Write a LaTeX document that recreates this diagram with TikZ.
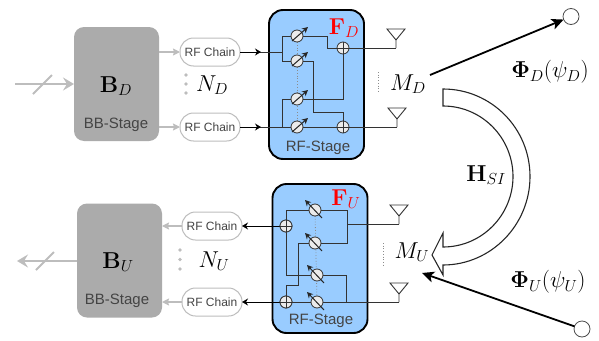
\RequirePackage{fix-cm}
\documentclass[tikz,border=0pt]{standalone}
\usepackage[no-math]{fontspec}
\newfontfamily\labelfont{Liberation Sans}
\usetikzlibrary{arrows.meta,calc}
\DeclareMathSizes{23}{23}{16}{12}
\definecolor{rfblue}{HTML}{99CCFF}
\definecolor{bbgray}{HTML}{ABABAB}
\definecolor{lightline}{HTML}{BDBDBD}
\definecolor{wire}{HTML}{333333}
\definecolor{labelgray}{HTML}{444444}
\pgfdeclarelayer{backbox}
\pgfdeclarelayer{wires}
\pgfsetlayers{backbox,wires,main}
\newcommand{\mathsize}{\fontsize{23}{27}\selectfont}
\tikzset{
  x=1pt,y=-1pt,
  every node/.style={inner sep=0pt,outer sep=0pt},
  bbbox/.style={fill=bbgray,rounded corners=10pt,minimum width=85pt,minimum height=114pt},
  rfbox/.style={fill=rfblue,draw=black,line width=1.9pt,rounded corners=14pt,minimum width=95pt,minimum height=149pt},
  chain/.style={draw=lightline,fill=white,line width=1pt,rounded corners=13.5pt,minimum width=60pt,minimum height=28pt,font=\labelfont\fontsize{12}{14}\selectfont,text=labelgray},
  stagelabel/.style={font=\labelfont\fontsize{15}{18}\selectfont,text=labelgray},
  mathlabel/.style={font=\mathsize},
  redlabel/.style={font=\mathsize,text=red},
  shifter/.style={circle,draw=wire,fill=white!92!black,line width=.8pt,minimum size=12pt},
  adder/.style={circle,draw=wire,fill=white!92!black,line width=.8pt,minimum size=12pt,
    path picture={\draw[wire,line width=.8pt] (path picture bounding box.north)--(path picture bounding box.south)
      (path picture bounding box.west)--(path picture bounding box.east);}},
  wireline/.style={draw=wire,line width=.9pt},
  grayarrow/.style={draw=lightline,line width=1.2pt,-{Stealth[length=7pt,width=7pt,inset=1pt]}},
  blackarrow/.style={draw=black,line width=1pt,-{Stealth[length=6pt,width=7pt]}},
  streamarrow/.style={draw=lightline,line width=1.9pt,-{Stealth[length=11pt,width=13pt,inset=4pt]}},
  beam/.style={draw=black,line width=1.8pt,-{Stealth[length=12pt,width=11pt,inset=3pt]}},
  tuner/.style={draw=black!85,line width=1pt,-{Stealth[length=6pt,width=6pt]}},
  antenna/.style={draw=wire,line width=.9pt,fill=white},
  user/.style={circle,draw=black!70,fill=white,line width=.8pt,minimum size=16pt},
  graydots/.style={circle,fill=lightline,minimum size=3.6pt},
  tinydots/.style={draw=black!45,line width=.7pt,dotted},
  psline/.style={draw=black!45,line width=.8pt,dotted}
}
\newcommand{\antennaat}[1]{\draw[antenna] (#1) -- ++(0,-8) -- ++(-9,-11) -- ++(18,0) -- ++(-9,11);}
\begin{document}
\begin{tikzpicture}
\useasboundingbox (0,0) rectangle (599,340);
% ---------- stage blocks
\begin{pgfonlayer}{backbox}
\node[bbbox] (bbd) at (116.5,84) {};
\node[bbbox] (bbu) at (119.5,260.5) {};
\node[rfbox] (rfd) at (316.5,84.5) {};
\node[rfbox] (rfu) at (320,258.5) {};
\end{pgfonlayer}
\node[mathlabel] (bdl) at (116,86) {$\mathbf{B}_D$};
\node[stagelabel] (bds) at (116,125) {BB-Stage};
\node[mathlabel] (bul) at (118,262) {$\mathbf{B}_U$};
\node[stagelabel] (bus) at (117,301) {BB-Stage};
\node[stagelabel] (rds) at (318,148) {RF-Stage};
\node[stagelabel] (rus) at (321,321) {RF-Stage};
\node[redlabel] (fdl) at (344,28) {$\mathbf{F}_D$};
\node[redlabel] (ful) at (346,199) {$\mathbf{F}_U$};
% ---------- RF chains
\node[chain] (cd1) at (210,52) {RF Chain};
\node[chain] (cd2) at (210,127) {RF Chain};
\node[chain] (cu1) at (212,226) {RF Chain};
\node[chain] (cu2) at (212,302) {RF Chain};
\draw[grayarrow] (bbd.east |- cd1) -- (cd1.west);
\draw[grayarrow] (bbd.east |- cd2) -- (cd2.west);
\draw[grayarrow] (cu1.west) -- (bbu.east |- cu1);
\draw[grayarrow] (cu2.west) -- (bbu.east |- cu2);
% ---------- stream arrows
\coordinate (inD) at (15,84);
\coordinate (outU) at (17,261);
\draw[streamarrow] (inD) -- (bbd.west);
\draw[lightline,line width=1.9pt] (33,94) -- (52,75);
\draw[streamarrow] (bbu.west |- outU) -- (outU);
\draw[lightline,line width=1.9pt] (36,270) -- (54,252);
% ---------- dots and counts
\foreach \n/\yy in {a/75,b/84,c/93}{\node[graydots] (dd\n) at (186,\yy) {};}
\foreach \n/\yy in {a/250,b/259.5,c/269}{\node[graydots] (du\n) at (180,\yy) {};}
\node[mathlabel] (nd) at (212,85) {$N_D$};
\node[mathlabel] (nu) at (214,261) {$N_U$};
% ---------- downlink RF stage
\node[shifter] (p1) at (297,36) {};
\node[shifter] (p2) at (297,61) {};
\node[shifter] (p3) at (297,99) {};
\node[shifter] (p4) at (297,127) {};
\node[adder] (s1) at (343,48) {};
\node[adder] (s2) at (343,127) {};
\coordinate (a1) at (396,48);
\coordinate (a2) at (397,127);
\coordinate (j1) at (282,52);
\coordinate (j2) at (282,127);
\coordinate (md1) at (261,52);
\coordinate (md2) at (261,127);
\begin{pgfonlayer}{wires}
\draw[psline] (p1) -- (p4);
\draw[wireline] (j1) |- (p1);
\draw[wireline] (j1) |- (p2);
\draw[wireline] (j2) |- (p3);
\draw[wireline] (cd1.east) -- (j1);
\draw[wireline] (cd2.east) -- (p4);
\draw[wireline] (p1) -- (327,36) |- (s1);
\draw[wireline] (p2) -- (313,61) |- (343,112) -- (s2);
\draw[wireline] (p3) -| (s1);
\draw[wireline] (p4) -- (s2);
\draw[wireline] (s1) -- (a1);
\draw[wireline] (s2) -- (a2);
\end{pgfonlayer}
\draw[blackarrow] (cd1.east) -- (md1);
\draw[blackarrow] (cd2.east) -- (md2);
\foreach \p in {p1,p2,p3,p4}{\draw[tuner] ($(\p)+(-5,5)$) -- ($(\p)+(11,-9)$);}
\antennaat{a1}
\antennaat{a2}
% ---------- uplink RF stage
\node[shifter] (q1) at (315,210) {};
\node[shifter] (q2) at (315,243) {};
\node[shifter] (q3) at (317,275) {};
\node[shifter] (q4) at (317,302) {};
\node[adder] (t1) at (286,226) {};
\node[adder] (t2) at (286,302) {};
\coordinate (b1) at (399,224);
\coordinate (b2) at (399,302);
\coordinate (k1) at (347,224);
\coordinate (k2) at (346,302);
\begin{pgfonlayer}{wires}
\draw[psline] (q1) -- (q4);
\draw[wireline] (b1) -- (k1);
\draw[wireline] (b2) -- (q4);
\draw[wireline] (k1) |- (q1);
\draw[wireline] (k1) |- (q2);
\draw[wireline] (k2) |- (q3);
\draw[wireline] (q1) -| (t1);
\draw[wireline] (q3) -| (t1);
\draw[wireline] (q2) -- (298,243) |- (286,285) -- (t2);
\draw[wireline] (q4) -- (t2);
\end{pgfonlayer}
\draw[blackarrow] (t1) -- (cu1.east);
\draw[blackarrow] (t2) -- (cu2.east);
\node[adder] at (t1) {};
\node[adder] at (t2) {};
\foreach \p in {q1,q2,q3,q4}{\draw[tuner] ($(\p)+(7,8)$) -- ($(\p)+(-10,-10)$);}
\antennaat{b1}
\antennaat{b2}
% ---------- array labels
\draw[tinydots] (378,72) -- (378,92);
\draw[tinydots] (383,243) -- (383,267);
\node[mathlabel] (md) at (408,84) {$M_D$};
\node[mathlabel] (mu) at (412,252) {$M_U$};
% ---------- users
\node[user] (ud) at (571,16.5) {};
\node[user] (uu) at (582,329) {};
\coordinate (txd) at (430,75);
\coordinate (rxu) at (422,273);
\draw[beam] (txd) -- (ud);
\draw[beam] (uu) -- (rxu);
\node[mathlabel] (phd) at (550,72) {$\mathbf{\Phi}_D(\psi_D)$};
\node[mathlabel] (phu) at (548,282) {$\mathbf{\Phi}_U(\psi_U)$};
% ---------- self-interference
\draw[draw=black!85,fill=white,line width=1.1pt,line join=miter]
  (443,89) .. controls (491,89) and (530,128) .. (530,176.5)
  .. controls (530,225) and (491,265) .. (443,265)
  -- (443,275) -- (432,255) -- (443,233) -- (443,247)
  .. controls (482,247) and (513,215) .. (513,176.5)
  .. controls (513,138) and (482,106) .. (443,106) -- cycle;
\node[mathlabel] (hsi) at (486,175) {$\mathbf{H}_{SI}$};
\end{tikzpicture}
\end{document}
